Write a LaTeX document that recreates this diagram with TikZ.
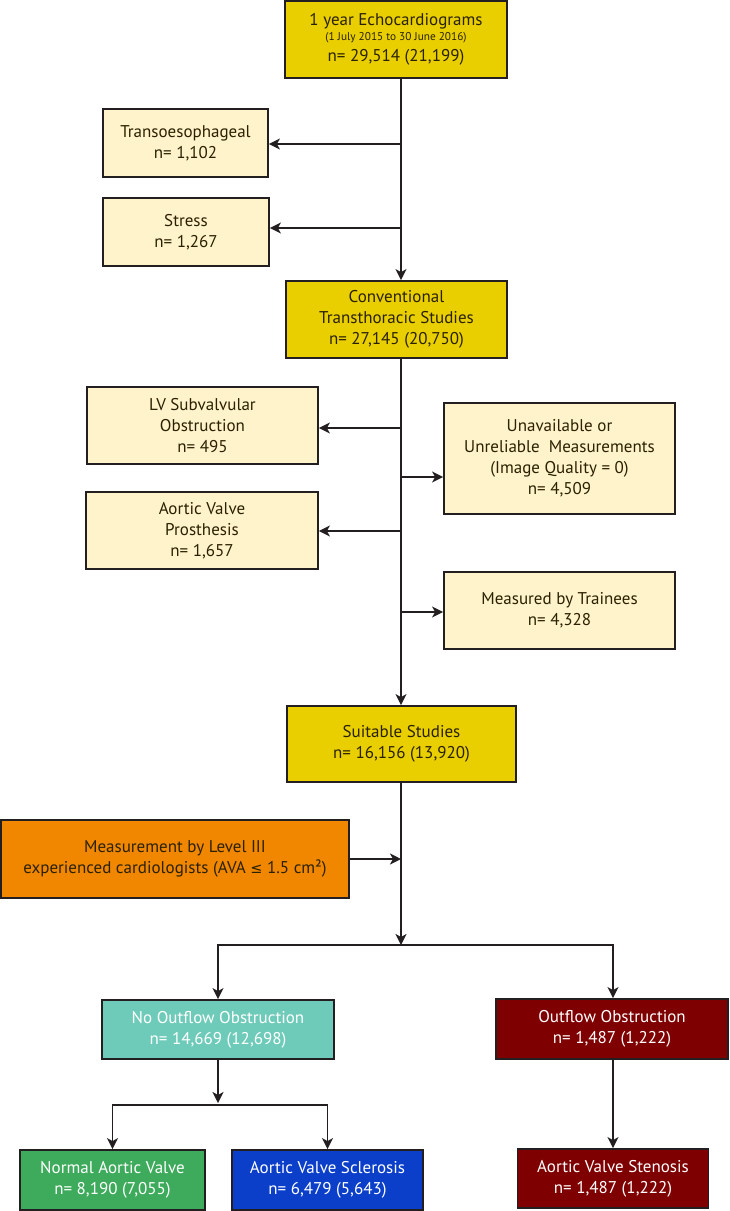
\documentclass[tikz,border=0pt]{standalone}
\usepackage{fontspec}
\setmainfont{PT Sans}
\newfontfamily\symfont{DejaVu Sans}
\usetikzlibrary{arrows.meta}
\definecolor{gold}{HTML}{E9CF00}
\definecolor{cream}{HTML}{FEF3CB}
\definecolor{orng}{HTML}{F18700}
\definecolor{teal2}{HTML}{6FCBB9}
\definecolor{grn}{HTML}{3DAB5B}
\definecolor{blu}{HTML}{0B3FCA}
\definecolor{maroon}{HTML}{7F0000}
\definecolor{linec}{HTML}{231F20}
\definecolor{txt}{HTML}{2A2100}
\begin{document}
\begin{tikzpicture}[x=1pt,y=-1pt,
  box/.style={draw=linec, line width=1.8pt, rectangle, inner sep=0pt, align=center,
    font=\fontsize{17}{21}\selectfont, text=txt},
  light/.style={box, text=white},
  conn/.style={draw=linec, line width=1.8pt},
  arr/.style={conn, -{Stealth[length=11pt,width=11pt,inset=3pt]}}]
\path[fill=white] (0,0) rectangle (730,1211);
\useasboundingbox (0,0) rectangle (730,1211);

\node[box, fill=gold, minimum width=222pt, minimum height=77pt] (top) at (396,39.5)
  {1 year Echocardiograms\\[-6pt]{\fontsize{11.3}{12}\selectfont (1 July 2015 to 30 June 2016)}\\n= 29,514 (21,199)};
\node[box, fill=cream, minimum width=165pt, minimum height=68pt] (trans) at (185.5,143) {Transoesophageal\\n= 1,102};
\node[box, fill=cream, minimum width=166pt, minimum height=68pt] (stress) at (186,232) {Stress\\n= 1,267};
\node[box, fill=gold, minimum width=221pt, minimum height=77pt] (conv) at (396.5,319.5)
  {Conventional\\Transthoracic Studies\\n= 27,145 (20,750)};
\node[box, fill=cream, minimum width=231pt, minimum height=77pt] (lv) at (202.5,425.5) {LV Subvalvular\\Obstruction\\n= 495};
\node[box, fill=cream, minimum width=232pt, minimum height=77pt] (pros) at (202,530.5) {Aortic Valve\\Prosthesis\\n= 1,657};
\node[box, fill=cream, minimum width=231pt, minimum height=111pt] (unav) at (559.5,458.5)
  {Unavailable or\\Unreliable\ \ Measurements\\(Image Quality = 0)\\n= 4,509};
\node[box, fill=cream, minimum width=231pt, minimum height=77pt] (train) at (559.5,610.5) {Measured by Trainees\\n= 4,328};
\node[box, fill=gold, minimum width=229pt, minimum height=76pt] (suit) at (401.5,744) {Suitable Studies\\n= 16,156 (13,920)};
\node[box, fill=orng, minimum width=348pt, minimum height=78pt, text=txt] (meas) at (175,859)
  {Measurement by Level III\\experienced cardiologists (AVA {\symfont\fontsize{14.5}{21}\selectfont ≤} 1.5 cm²)};
\node[light, fill=teal2, minimum width=232pt, minimum height=59pt] (nof) at (218,1029.5) {No Outflow Obstruction\\n= 14,669 (12,698)};
\node[light, fill=maroon, minimum width=232pt, minimum height=60pt] (obs) at (612,1029) {Outflow Obstruction\\n= 1,487 (1,222)};
\node[light, fill=grn, minimum width=185pt, minimum height=60pt] (norm) at (112.5,1180) {Normal Aortic Valve\\n= 8,190 (7,055)};
\node[light, fill=blu, minimum width=191pt, minimum height=60pt] (scl) at (327.5,1180) {Aortic Valve Sclerosis\\n= 6,479 (5,643)};
\node[light, fill=maroon, minimum width=191pt, minimum height=59pt] (sten) at (613,1178.5) {Aortic Valve Stenosis\\n= 1,487 (1,222)};

\coordinate (m) at (401,0);
\coordinate (jt) at (401,144);
\coordinate (st) at (401,228);
\coordinate (jl) at (401,428);
\coordinate (u) at (401,477);
\coordinate (jp) at (401,531);
\coordinate (jr) at (401,612);
\coordinate (jm) at (401,859);
\coordinate (s) at (401,945);
\coordinate (s2) at (218,1105);
\coordinate (ob) at (613,0);

\draw[arr] (top.south -| m) -- (conv.north -| m);
\draw[arr] (jt) -- (jt -| trans.east);
\draw[arr] (st) -- (st -| stress.east);
\draw[arr] (conv.south -| m) -- (suit.north -| m);
\draw[arr] (jl) -- (jl -| lv.east);
\draw[arr] (jp) -- (jp -| pros.east);
\draw[arr] (u) -- (u -| unav.west);
\draw[arr] (jr) -- (jr -| train.west);
\draw[arr] (suit.south -| m) -- (s);
\draw[arr] (jm -| meas.east) -- (jm);
\draw[arr] (s) -| (nof.north);
\draw[arr] (s) -| (obs.north -| ob);
\draw[arr] (nof.south) -- ([yshift=2pt]s2);
\draw[arr] (s2) -| (norm.north);
\draw[arr] (s2) -| (scl.north);
\draw[arr] (obs.south -| ob) -- (sten.north -| ob);
\end{tikzpicture}
\end{document}
